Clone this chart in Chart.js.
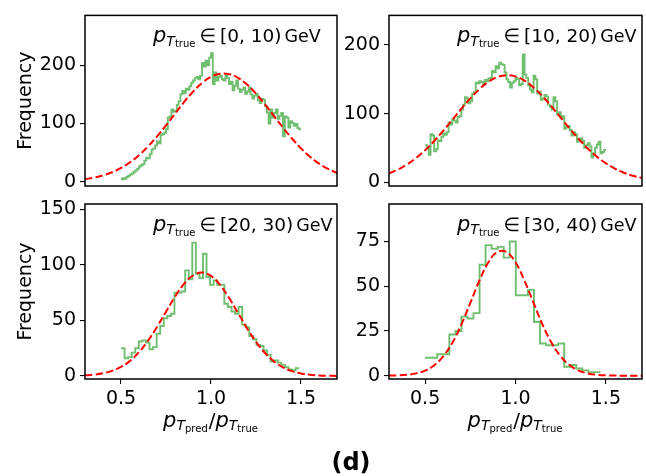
<!DOCTYPE html>
<html>
<head>
<meta charset="utf-8">
<script src="https://cdn.jsdelivr.net/npm/chart.js@4.4.0/dist/chart.umd.min.js"></script>
<style>
html,body{margin:0;padding:0;background:#fff;}
#wrap{position:relative;width:646px;height:476px;overflow:hidden;background:#fff;}
#wrap canvas{position:absolute;left:0;top:0;}
</style>
</head>
<body>
<div id="wrap">
<canvas id="c0" width="646" height="476"></canvas>
<canvas id="c1" width="646" height="476"></canvas>
<canvas id="c2" width="646" height="476"></canvas>
<canvas id="c3" width="646" height="476"></canvas>
</div>
<script>
// ---------------- data ----------------
const panelRanges = ['[0, 10)', '[10, 20)', '[20, 30)', '[30, 40)'];
const xTicks = [0.5, 1.0, 1.5];
const xTickLabels = ['0.5', '1.0', '1.5'];

const tlYTicks = [0, 100, 200];
const trYTicks = [0, 100, 200];
const blYTicks = [0, 50, 100, 150];
const brYTicks = [0, 25, 50, 75];

const tlYLim = [-7.6, 286];
const trYLim = [-5.5, 243];
const blYLim = [-2.7, 154.7];
const brYLim = [-1.85, 96];

// histogram ranges (first edge, last edge) and counts per bin
const tlRange = [0.5, 1.5];
const tlCounts = [4,6,5,8,10,12,14,17,19,22, 26,28,30,36,41,40,47,55,57,62,
  69,66,80,82,84,90,110,112,124,120, 122,132,138,150,156,152,160,158,164,170,
  174,178,180,176,182,204,198,208,200,213, 221,168,188,174,180,182,176,174,182,178,
  168,172,157,165,174,160,154,158,162,151, 155,162,150,143,148,151,140,135,142,141,
  130,119,100,124,110,118,124,108,113,118, 78,112,110,93,104,101,96,99,92,90];

const trRange = [0.5, 1.5];
const trCounts = [54,50,40,70,68,45,48,61,60,66, 71,69,73,87,84,92,90,87,95,96,
  106,113,124,122,115,118,129,131,145,144, 147,146,143,149,147,151,152,162,160,169,
  166,174,172,171,160,150,146,138,145,147, 152,150,141,143,186,157,152,141,135,131,
  155,150,129,132,120,122,127,125,113,110, 106,124,118,99,102,94,96,78,80,82,
  76,68,73,70,59,62,64,60,50,54, 57,52,36,42,50,55,59,42,44,47];

const blRange = [0.5, 1.49];
const blCounts = [25,16,17,21,25,31,32,30,24,26, 38,45,52,54,56,75,75,76,95,87,
  120,92,88,110,89,82,86,82,82,65, 62,58,56,62,46,44,36,33,28,27,
  23,19,13,14,12,10,8,6,5,7];

const brRange = [0.5, 1.47];
const brCounts = [10,10,12,12,23,25,33,32,35,62,73,71,72,66,75,45,45,48,30,18,17,17,18,5,6,4,3,2,2];

// Gaussian fit curves read at these x positions
const fitX = [0.30,0.35,0.40,0.45,0.50,0.55,0.60,0.65,0.70,0.75,0.80,0.85,0.90,0.95,1.00,
  1.05,1.10,1.15,1.20,1.25,1.30,1.35,1.40,1.45,1.50,1.55,1.60,1.65,1.70];
const tlFit = [4.2,6.8,10.6,16.0,23.4,33.2,45.5,60.4,77.7,96.8,116.8,136.6,154.7,169.7,180.3,
  185.5,184.9,178.6,167.0,151.3,132.8,112.8,92.9,74.1,57.2,42.8,31.0,21.8,14.8];
const trFit = [12.8,18.5,25.9,35.3,46.7,60.0,74.9,90.7,106.8,122.1,135.6,146.3,153.3,156.0,154.2,
  148.0,138.0,125.0,110.0,94.0,78.0,62.9,49.2,37.4,27.7,19.8,13.8,9.4,6.2];
const blFit = [0.57,1.21,2.43,4.59,8.15,13.6,21.4,31.7,44.1,57.8,71.3,82.8,90.4,93.0,90.0,
  82.0,70.3,56.7,43.0,30.8,20.7,13.1,7.8,4.37,2.31,1.14,0.54,0.24,0.10];
const brFit = [0.07,0.20,0.53,1.29,2.85,5.80,10.8,18.3,28.5,40.7,53.1,63.4,69.2,69.2,63.4,
  53.1,40.7,28.5,18.3,10.8,5.80,2.85,1.29,0.53,0.20,0.07,0.02,0.01,0.0];

// ---------------- layout / style ----------------
Chart.defaults.font.family = 'DejaVu Sans';
Chart.defaults.color = '#000';
const W = 646, H = 476;
const WY = 85, HX = 45;
const GREEN = 'rgba(44,160,44,0.68)';
const FONT = '"DejaVu Sans"';

const panels = [
  {id:'c0', area:{l:85, t:9, r:337, b:186}, counts:tlCounts, range:tlRange, fit:tlFit, ylim:tlYLim, yticks:tlYTicks, label:panelRanges[0], ylabel:true, xlabel:false},
  {id:'c1', area:{l:389, t:9, r:642, b:186}, counts:trCounts, range:trRange, fit:trFit, ylim:trYLim, yticks:trYTicks, label:panelRanges[1], ylabel:false, xlabel:false},
  {id:'c2', area:{l:85, t:204, r:337, b:379}, counts:blCounts, range:blRange, fit:blFit, ylim:blYLim, yticks:blYTicks, label:panelRanges[2], ylabel:true, xlabel:true},
  {id:'c3', area:{l:389, t:204, r:642, b:379}, counts:brCounts, range:brRange, fit:brFit, ylim:brYLim, yticks:brYTicks, label:panelRanges[3], ylabel:false, xlabel:true, fig:true}
];

function drawPieces(ctx, x, y, pieces, align) {
  const widths = pieces.map(p => {
    ctx.font = (p.b ? 'bold ' : '') + (p.i ? 'italic ' : '') + p.s + 'px ' + FONT;
    return ctx.measureText(p.t).width + (p.g || 0);
  });
  const total = widths.reduce((a, b) => a + b, 0);
  let cx = align === 'center' ? x - total / 2 : x;
  ctx.save();
  ctx.fillStyle = '#000';
  ctx.textBaseline = 'alphabetic';
  ctx.textAlign = 'left';
  pieces.forEach((p, k) => {
    ctx.font = (p.b ? 'bold ' : '') + (p.i ? 'italic ' : '') + p.s + 'px ' + FONT;
    ctx.fillText(p.t, cx + (p.pre || 0), y + (p.dy || 0));
    cx += widths[k];
  });
  ctx.restore();
}

function ptPieces(sub) {
  return [
    {t:'p', s:21, i:true},
    {t:'T', s:14, i:true, dy:3.3},
    {t:sub, s:10, dy:4.8, g:1}
  ];
}

const framePlugin = {
  id:'frame',
  afterDraw(chart) {
    const {ctx, chartArea:a} = chart;
    ctx.save();
    ctx.strokeStyle = '#000';
    ctx.lineWidth = 1.5;
    ctx.strokeRect(a.left, a.top, a.right - a.left, a.bottom - a.top);
    ctx.restore();
  }
};

function textPlugin(p) {
  return {
    id:'txt' + p.id,
    afterDraw(chart) {
      const ctx = chart.ctx;
      const a = chart.chartArea;
      drawPieces(ctx, a.left + 68, a.top + 27,
        ptPieces('true').concat([
          {t:'\u2208', s:19, g:7, pre:3},
          {t:p.label, s:18.5, g:3},
          {t:'GeV', s:17.5}
        ]), 'left');
      if (p.xlabel) {
        drawPieces(ctx, (a.left + a.right) / 2, 427,
          ptPieces('pred').concat([{t:'/', s:20}]).concat(ptPieces('true')), 'center');
      }
      if (p.fig) {
        drawPieces(ctx, 351, 470, [{t:'(d)', s:24, b:true}], 'center');
      }
    }
  };
}

function build(p) {
  const n = p.counts.length, lo = p.range[0], hi = p.range[1], w = (hi - lo) / n;
  const step = p.counts.map((c, k) => ({x: lo + k * w, y: c}));
  step.push({x: hi, y: p.counts[n - 1]});
  const fit = fitX.map((x, k) => ({x: x, y: p.fit[k]}));
  return new Chart(document.getElementById(p.id), {
    type:'line',
    data:{datasets:[
      {data:fit, borderColor:'#ff0000', borderWidth:2, borderDash:[7.4, 3.2], pointRadius:0, tension:0.4, order:0, fill:false},
      {data:step, stepped:'before', borderColor:GREEN, borderWidth:1.9, pointRadius:0, order:1, fill:false}
    ]},
    options:{
      responsive:false, animation:false, devicePixelRatio:1, events:[],
      layout:{padding:{left:p.area.l - WY, top:p.area.t, right:W - p.area.r, bottom:H - p.area.b - HX}},
      plugins:{legend:{display:false}, tooltip:{enabled:false}, title:{display:false}},
      scales:{
        x:{type:'linear', min:0.3, max:1.7, position:'bottom',
          afterBuildTicks(s){ s.ticks = xTicks.map(v => ({value:v})); },
          afterFit(s){ s.height = HX; },
          grid:{drawOnChartArea:false, drawTicks:p.xlabel, tickLength:5, color:'#000', lineWidth:1.1},
          border:{display:false},
          ticks:{display:p.xlabel, autoSkip:false, maxRotation:0, minRotation:0, padding:4, color:'#000', font:{size:19},
            callback(v){ const k = xTicks.indexOf(v); return k >= 0 ? xTickLabels[k] : ''; }}
        },
        y:{type:'linear', min:p.ylim[0], max:p.ylim[1],
          afterBuildTicks(s){ s.ticks = p.yticks.map(v => ({value:v})); },
          afterFit(s){ s.width = WY; },
          grid:{drawOnChartArea:false, drawTicks:true, tickLength:5, color:'#000', lineWidth:1.1},
          border:{display:false},
          ticks:{autoSkip:false, padding:4, color:'#000', font:{size:19}, callback(v){ return String(v); }},
          title:{display:p.ylabel, text:'Frequency', color:'#000', font:{size:19}, padding:{top:15, bottom:0}}
        }
      }
    },
    plugins:[framePlugin, textPlugin(p)]
  });
}

panels.forEach(build);
</script>
</body>
</html>
